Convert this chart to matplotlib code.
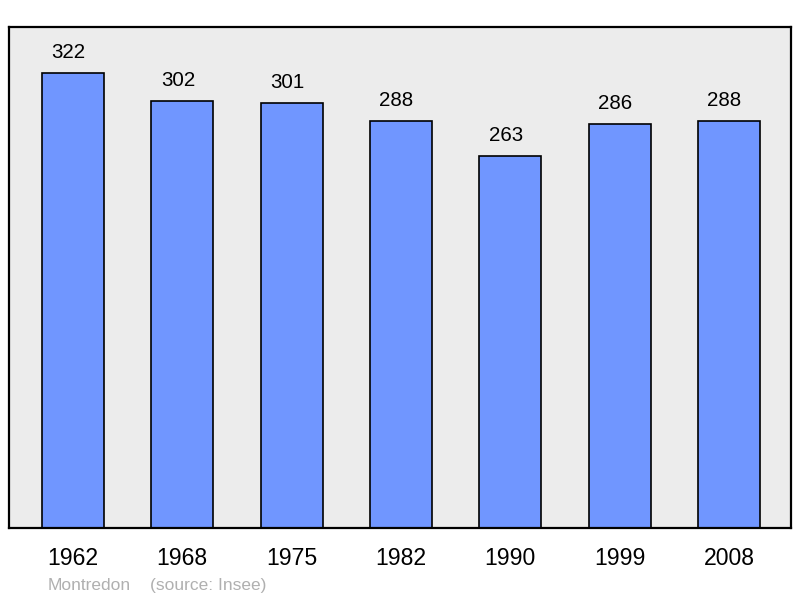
import matplotlib.pyplot as plt

plt.rcParams['font.family'] = ['Liberation Sans', 'DejaVu Sans']

years = ['1962', '1968', '1975', '1982', '1990', '1999', '2008']
population = [322, 302, 301, 288, 263, 286, 288]

fig = plt.figure(figsize=(8, 5.98), dpi=100)
ax = fig.add_axes([9/800, 70/598, 782/800, 501/598])
ax.set_facecolor('#ececec')

x = list(range(len(years)))
ax.bar(x, population, width=0.567, color='#7096ff', edgecolor='black',
       linewidth=1.2, zorder=2)

# value labels sit a little left of bar centre, as in the original
for xi, v in zip(x, population):
    ax.annotate(str(v), (xi, v), xytext=(-3.2, 8), textcoords='offset points',
                ha='center', va='bottom', fontsize=14.8)

ax.set_xlim(-0.585, 6.567)
ax.set_ylim(0, 354.6)
ax.set_yticks([])
ax.set_xticks(x)
ax.set_xticklabels(years, fontsize=16.6)
ax.tick_params(axis='x', length=0, pad=13.5)
for s in ax.spines.values():
    s.set_linewidth(1.6)

fig.text(48/800, 1 - 590/598, 'Montredon', fontsize=12.5, color='#b0b0b0',
         ha='left', va='baseline')
fig.text(150/800, 1 - 590/598, '(source: Insee)', fontsize=12.5, color='#b0b0b0',
         ha='left', va='baseline')

fig.savefig('out.png', dpi=100)
